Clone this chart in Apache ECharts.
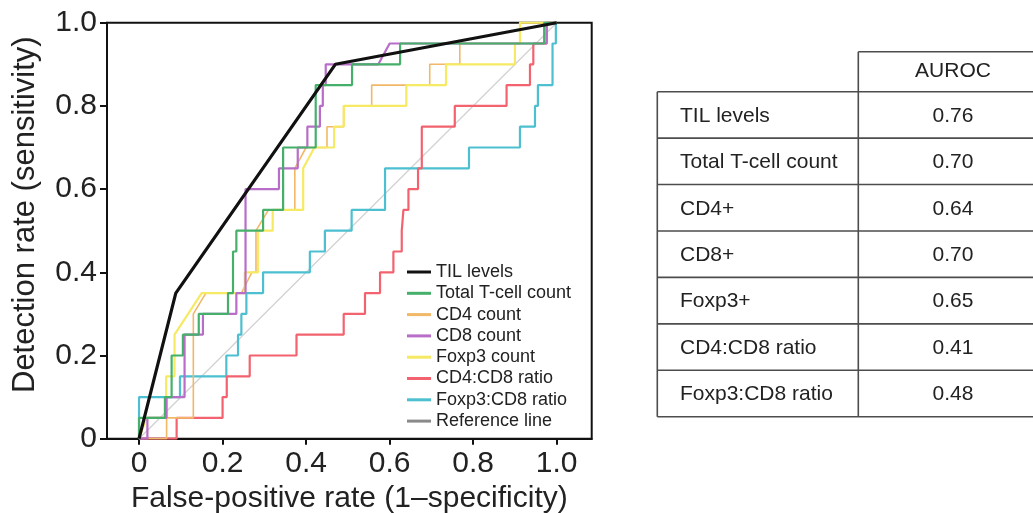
<!DOCTYPE html>
<html>
<head>
<meta charset="utf-8">
<title>ROC curves</title>
<script src="https://cdn.jsdelivr.net/npm/echarts@6/dist/echarts.min.js"></script>
<style>
  html, body { margin: 0; padding: 0; background: #fff; }
  #chart { width: 1033px; height: 513px; }
</style>
</head>
<body>
<div id="chart"></div>
<script>
// ROC operating points [false-positive rate, sensitivity] for each marker
const tilLevels = [[0,0],[0.088,0.35],[0.47,0.90],[1,1]];
const totalTcellCount = [[0,0],[0,0.05],[0.062,0.05],[0.062,0.10],[0.078,0.10],[0.078,0.20],[0.105,0.20],[0.105,0.25],[0.143,0.25],[0.143,0.30],[0.213,0.30],[0.213,0.35],[0.225,0.35],[0.225,0.45],[0.233,0.45],[0.233,0.50],[0.297,0.50],[0.297,0.55],[0.345,0.55],[0.345,0.70],[0.423,0.70],[0.423,0.85],[0.51,0.85],[0.51,0.90],[0.625,0.90],[0.625,0.95],[0.97,0.95],[0.97,1.0],[1,1]];
const cd4Count = [[0,0],[0.066,0],[0.066,0.05],[0.13,0.05],[0.13,0.30],[0.16,0.35],[0.245,0.35],[0.27,0.40],[0.28,0.40],[0.28,0.50],[0.31,0.55],[0.373,0.55],[0.373,0.65],[0.40,0.70],[0.45,0.70],[0.45,0.75],[0.49,0.75],[0.49,0.80],[0.557,0.80],[0.557,0.85],[0.696,0.85],[0.696,0.90],[0.768,0.90],[0.768,0.95],[0.912,0.95],[0.912,1.0],[1,1]];
const cd8Count = [[0,0],[0.02,0],[0.02,0.05],[0.066,0.05],[0.066,0.10],[0.109,0.10],[0.109,0.25],[0.153,0.25],[0.153,0.30],[0.233,0.30],[0.233,0.35],[0.255,0.35],[0.255,0.60],[0.335,0.60],[0.335,0.65],[0.38,0.65],[0.38,0.70],[0.403,0.70],[0.403,0.75],[0.433,0.75],[0.433,0.80],[0.44,0.80],[0.44,0.85],[0.447,0.85],[0.447,0.90],[0.573,0.90],[0.60,0.95],[0.976,0.95],[0.976,1.0],[1,1]];
const foxp3Count = [[0,0],[0.018,0.05],[0.065,0.05],[0.065,0.15],[0.085,0.15],[0.085,0.25],[0.15,0.35],[0.253,0.35],[0.253,0.40],[0.285,0.40],[0.285,0.50],[0.32,0.50],[0.32,0.55],[0.393,0.55],[0.393,0.65],[0.42,0.70],[0.467,0.70],[0.467,0.75],[0.49,0.75],[0.49,0.80],[0.64,0.80],[0.64,0.85],[0.735,0.85],[0.735,0.90],[0.90,0.90],[0.90,0.95],[0.912,0.95],[0.912,1.0],[1,1]];
const cd4Cd8Ratio = [[0,0],[0.09,0],[0.09,0.05],[0.20,0.05],[0.20,0.10],[0.21,0.10],[0.21,0.15],[0.265,0.15],[0.265,0.20],[0.377,0.20],[0.377,0.25],[0.49,0.25],[0.49,0.30],[0.541,0.30],[0.541,0.35],[0.577,0.35],[0.577,0.40],[0.609,0.40],[0.609,0.45],[0.629,0.45],[0.629,0.50],[0.633,0.50],[0.633,0.55],[0.645,0.55],[0.645,0.60],[0.668,0.60],[0.668,0.65],[0.677,0.65],[0.677,0.75],[0.756,0.75],[0.756,0.80],[0.88,0.80],[0.88,0.85],[0.936,0.85],[0.936,0.90],[0.944,0.90],[0.944,0.95],[0.976,0.95],[0.976,1.0],[1,1]];
const foxp3Cd8Ratio = [[0,0],[0,0.10],[0.098,0.10],[0.098,0.15],[0.209,0.15],[0.209,0.20],[0.237,0.20],[0.237,0.25],[0.245,0.25],[0.245,0.30],[0.257,0.30],[0.257,0.35],[0.297,0.35],[0.297,0.40],[0.409,0.40],[0.409,0.45],[0.445,0.45],[0.445,0.50],[0.509,0.50],[0.509,0.55],[0.589,0.55],[0.589,0.65],[0.79,0.65],[0.79,0.70],[0.912,0.70],[0.912,0.75],[0.948,0.75],[0.948,0.80],[0.955,0.80],[0.955,0.85],[0.99,0.85],[0.99,0.95],[0.998,0.95],[0.998,1.0],[1,1]];
const referenceLine = [[0,0],[1,1]];

// Axis tick positions
const xTicks = [0, 0.2, 0.4, 0.6, 0.8, 1.0];

// AUROC summary table
const tableRows = ['TIL levels', 'Total T-cell count', 'CD4+', 'CD8+', 'Foxp3+', 'CD4:CD8 ratio', 'Foxp3:CD8 ratio'];
const aurocValues = [0.76, 0.70, 0.64, 0.70, 0.65, 0.41, 0.48];

const FONT = '"Liberation Sans", Arial, Helvetica, sans-serif';
const tickFmt = v => (v === 0 ? '0' : v.toFixed(1));

// table geometry
const tblLeft = 657.3, tblSplit = 858.3, tblRight = 1040;
const tblHeadTop = 51.7, tblBodyTop = 91.7, rowH = 46.43;
const tblStroke = '#4d4d4d';
const graphics = [];
function hline(x1, x2, y) {
  graphics.push({ type: 'line', shape: { x1, y1: y, x2, y2: y }, style: { stroke: tblStroke, lineWidth: 1.6 } });
}
function vline(x, y1, y2) {
  graphics.push({ type: 'line', shape: { x1: x, y1, x2: x, y2 }, style: { stroke: tblStroke, lineWidth: 1.6 } });
}
const tblBottom = tblBodyTop + rowH * tableRows.length;
hline(tblSplit, tblRight, tblHeadTop);
for (let i = 0; i <= tableRows.length; i++) hline(tblLeft, tblRight, tblBodyTop + rowH * i);
vline(tblLeft, tblBodyTop, tblBottom);
vline(tblSplit, tblHeadTop, tblBottom);
graphics.push({ type: 'text', style: { text: 'AUROC', x: 953, y: (tblHeadTop + tblBodyTop) / 2, font: '21px ' + FONT, fill: '#222', align: 'center', verticalAlign: 'middle' } });
tableRows.forEach((name, i) => {
  const cy = tblBodyTop + rowH * i + rowH / 2 + 1;
  graphics.push({ type: 'text', style: { text: name, x: 680, y: cy, font: '21px ' + FONT, fill: '#222', align: 'left', verticalAlign: 'middle' } });
  graphics.push({ type: 'text', style: { text: aurocValues[i].toFixed(2), x: 953, y: cy, font: '21px ' + FONT, fill: '#222', align: 'center', verticalAlign: 'middle' } });
});

function curve(name, data, color, width, z) {
  return {
    name, type: 'line', data, color, z,
    showSymbol: false, symbol: 'none', animation: false,
    lineStyle: { color, width }
  };
}

const chart = echarts.init(document.getElementById('chart'), null, { renderer: 'canvas' });
chart.setOption({
  animation: false,
  textStyle: { fontFamily: FONT },
  grid: {
    left: 107, top: 22.7, width: 484.7, height: 416,
    containLabel: false, outerBoundsMode: 'none',
    show: true, borderColor: '#111', borderWidth: 2, backgroundColor: 'transparent'
  },
  xAxis: {
    type: 'value', min: -0.0767, max: 1.0838,
    name: 'False-positive rate (1\u2013specificity)',
    nameLocation: 'middle', nameGap: 40,
    nameTextStyle: { fontSize: 30, color: '#222', fontFamily: FONT },
    axisLine: { onZero: false, lineStyle: { color: '#111', width: 2 } },
    axisTick: { customValues: xTicks, length: 6, lineStyle: { color: '#111', width: 2 } },
    axisLabel: { customValues: xTicks, formatter: tickFmt, fontSize: 30, color: '#222', margin: 10, fontFamily: FONT },
    splitLine: { show: false }
  },
  yAxis: {
    type: 'value', min: 0, max: 1, interval: 0.2,
    name: 'Detection rate (sensitivity)',
    nameLocation: 'middle', nameGap: 66, nameRotate: 90,
    nameTextStyle: { fontSize: 31, color: '#222', fontFamily: FONT, padding: [0, 0, 0, 32] },
    axisLine: { onZero: false, lineStyle: { color: '#111', width: 2 } },
    axisTick: { length: 7, lineStyle: { color: '#111', width: 2 } },
    axisLabel: { formatter: tickFmt, fontSize: 30, color: '#222', margin: 10, fontFamily: FONT },
    splitLine: { show: false }
  },
  legend: {
    orient: 'vertical', left: 402, top: 258,
    icon: 'rect', itemWidth: 24, itemHeight: 3, itemGap: 3.3,
    textStyle: { fontSize: 18, color: '#222', lineHeight: 18, fontFamily: FONT },
    selectedMode: false,
    data: [
      { name: 'TIL levels' },
      { name: 'Total T-cell count' },
      { name: 'CD4 count' },
      { name: 'CD8 count' },
      { name: 'Foxp3 count' },
      { name: 'CD4:CD8 ratio' },
      { name: 'Foxp3:CD8 ratio' },
      { name: 'Reference line', itemStyle: { color: '#8a8a8a' } }
    ]
  },
  series: [
    curve('Reference line', referenceLine, '#d2d2d2', 1.3, 1),
    curve('Foxp3:CD8 ratio', foxp3Cd8Ratio, '#4cc0d0', 2.2, 2),
    curve('CD4:CD8 ratio', cd4Cd8Ratio, '#f2636f', 2.2, 3),
    curve('CD4 count', cd4Count, '#f1b868', 1.6, 4),
    curve('Foxp3 count', foxp3Count, '#f6e964', 2.2, 5),
    curve('CD8 count', cd8Count, '#b86dc9', 2.2, 6),
    curve('Total T-cell count', totalTcellCount, '#46b06b', 2.2, 7),
    curve('TIL levels', tilLevels, '#111111', 3.2, 8)
  ],
  graphic: graphics
});
</script>
</body>
</html>
